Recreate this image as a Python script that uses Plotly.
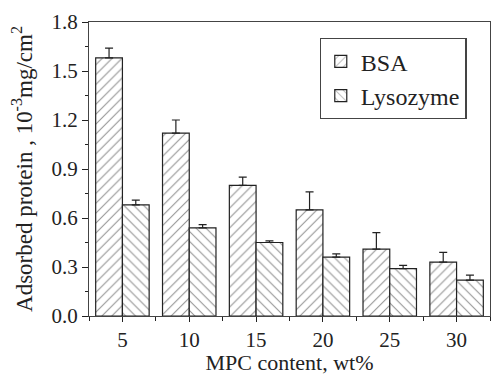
import plotly.graph_objects as go

mpc = [5, 10, 15, 20, 25, 30]
bsa = [1.58, 1.12, 0.80, 0.65, 0.41, 0.33]
bsa_err = [0.06, 0.08, 0.05, 0.11, 0.10, 0.06]
lys = [0.68, 0.54, 0.45, 0.36, 0.29, 0.22]
lys_err = [0.03, 0.02, 0.01, 0.02, 0.02, 0.03]
y_ticks = [0.0, 0.3, 0.6, 0.9, 1.2, 1.5, 1.8]

FONT = "Times New Roman"
INK = "#222222"

def err(v):
    return dict(type="data", symmetric=False, array=v, arrayminus=[0] * len(v),
                color=INK, thickness=1.2, width=4)

fig = go.Figure()
fig.add_bar(x=mpc, y=bsa, name="BSA", error_y=err(bsa_err),
            marker=dict(color="white", line=dict(color=INK, width=1.2),
                        pattern=dict(shape="/", fgcolor=INK, bgcolor="white", size=7, solidity=0.15)))
fig.add_bar(x=mpc, y=lys, name="Lysozyme", error_y=err(lys_err),
            marker=dict(color="white", line=dict(color=INK, width=1.2),
                        pattern=dict(shape="\\", fgcolor=INK, bgcolor="white", size=7, solidity=0.15)))

fig.update_layout(
    width=491, height=375,
    margin=dict(l=89, r=1, t=22, b=59, autoexpand=False),
    paper_bgcolor="white", plot_bgcolor="white",
    barmode="group", bargap=0.2, bargroupgap=0,
    font=dict(family=FONT, size=21, color=INK),
    showlegend=True,
    legend=dict(x=0.575, y=0.945, xanchor="left", yanchor="top",
                bordercolor="#444", borderwidth=1.2, bgcolor="white",
                font=dict(family=FONT, size=24, color=INK), itemwidth=30, tracegroupgap=0),
    xaxis=dict(range=[2.5, 32.5], tickvals=mpc, ticks="outside", ticklen=5,
               tickcolor=INK, showline=True, linecolor="#444", linewidth=1.2,
               mirror=True, showgrid=False, zeroline=False,
               tickfont=dict(family=FONT, size=21, color=INK),
               minor=dict(dtick=2.5, tick0=2.5, ticks="outside", ticklen=4, tickcolor=INK),
               title=dict(text="MPC content, wt%", standoff=6,
                          font=dict(family=FONT, size=22, color=INK))),
    yaxis=dict(range=[0, 1.8], tickvals=y_ticks, ticktext=[f"{v:.1f}" for v in y_ticks],
               ticks="outside", ticklen=6, tickcolor=INK,
               showline=True, linecolor="#444", linewidth=1.2, mirror=True,
               showgrid=False, zeroline=False,
               tickfont=dict(family=FONT, size=21, color=INK),
               minor=dict(dtick=0.15, tick0=0, ticks="outside", ticklen=3, tickcolor=INK),
               title=dict(text="Adsorbed protein , 10<sup>-3</sup>mg/cm<sup>2</sup>", standoff=12,
                          font=dict(family=FONT, size=23, color=INK))),
)

fig.write_html("out.html", config={"displayModeBar": False},
               post_script="document.body.style.margin='0';document.body.style.overflow='hidden';")
